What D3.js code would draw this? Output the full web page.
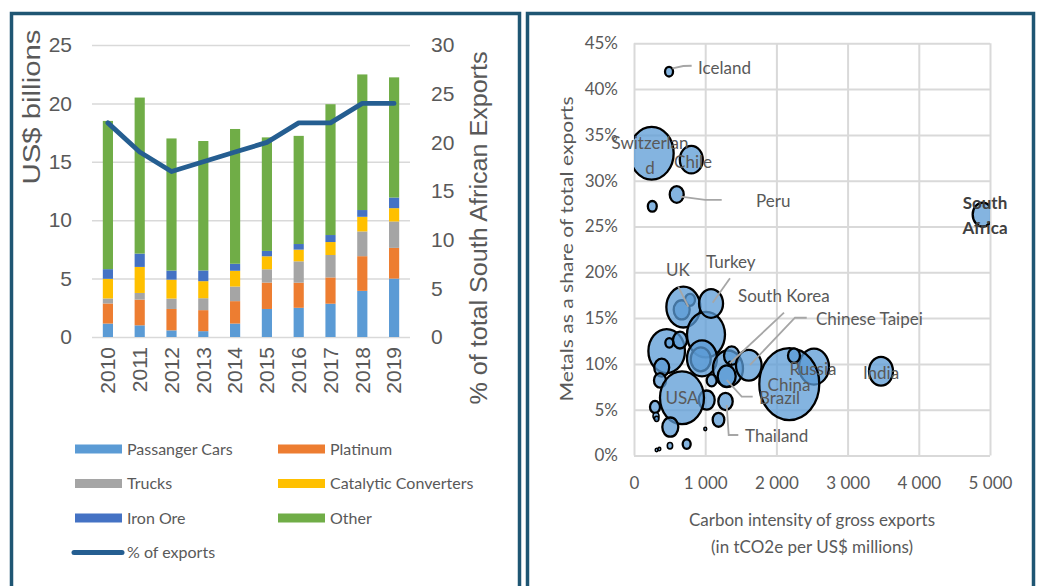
<!DOCTYPE html>
<html>
<head>
<meta charset="utf-8">
<script src="https://cdn.jsdelivr.net/npm/d3@7"></script>
<style>
  body { margin: 0; background: #fff; }
  svg { display: block; }
</style>
</head>
<body>
<svg id="chart" width="1040" height="586"></svg>
<script>
// ---- left chart data (US$ billions) ----
var years = ["2010", "2011", "2012", "2013", "2014", "2015", "2016", "2017", "2018", "2019"];
var passengerCars = [1.15, 1.0, 0.57, 0.5, 1.15, 2.4, 2.5, 2.85, 3.95, 5.0];
var platinum = [1.72, 2.2, 1.83, 1.8, 1.92, 2.26, 2.15, 2.25, 2.97, 2.63];
var trucks = [0.43, 0.57, 0.89, 1.02, 1.25, 1.14, 1.83, 1.92, 2.12, 2.26];
var catalyticConverters = [1.68, 2.23, 1.62, 1.46, 1.35, 1.11, 1.0, 1.11, 1.25, 1.14];
var ironOre = [0.83, 1.14, 0.78, 0.92, 0.6, 0.46, 0.48, 0.6, 0.58, 0.91];
var other = [12.69, 13.36, 11.31, 11.08, 11.54, 9.72, 9.26, 11.2, 11.61, 10.29];
var exportShare = [22, 19, 17, 18, 19, 20, 22, 22, 24, 24];
var seriesNames = ["Passanger Cars", "Platinum", "Trucks", "Catalytic Converters", "Iron Ore", "Other"];
var leftTicks = [0, 5, 10, 15, 20, 25];
var rightTicks = [0, 5, 10, 15, 20, 25, 30];

// ---- right chart data ----
var countries = ["", "", "Switzerland", "Iceland", "Chile", "Peru", "", "South Africa", "India", "Russia", "China", "",
  "UK", "", "", "Turkey", "", "", "", "", "", "", "South Korea", "", "Chinese Taipei", "Brazil", "",
  "", "", "USA", "Thailand", "", "", "", "", "", "", "", "", "", ""];
var carbonIntensity = [670, 787, 248, 492, 805, 600, 257, 4897, 3469, 2528, 2181, 2247,
  693, 1011, 459, 1082, 646, 937, 955, 389, 365, 496, 1320, 1372, 1612, 1302, 1091,
  1021, 295, 674, 1285, 1187, 1001, 510, 505, 740, 318, 356, 309, 318, 1348];
var metalShare = [15.9, 17.0, 33.0, 41.9, 32.3, 28.5, 27.2, 26.3, 9.2, 9.7, 7.8, 10.9,
  16.2, 13.2, 11.4, 16.6, 12.6, 10.5, 10.6, 9.6, 8.2, 12.3, 9.5, 10.9, 9.85, 8.65, 8.2,
  6.05, 5.3, 6.3, 5.9, 3.9, 2.9, 3.1, 1.07, 1.25, 0.6, 0.7, 4.3, 4.0, 10.1];
var exportSize = [64, 25, 484, 16, 132, 49, 20, 100, 144, 225, 900, 36,
  289, 361, 335, 144, 49, 100, 225, 56, 36, 16, 225, 59, 164, 81, 25,
  64, 25, 484, 52, 34, 2, 64, 7, 16, 2, 2, 9, 5, 0];
var xTicksR = [0, 1000, 2000, 3000, 4000, 5000];
var yTicksR = [0, 5, 10, 15, 20, 25, 30, 35, 40, 45];

// labels: text lines, anchor point in data units
var bubbleLabels = [
  { lines: ["Iceland"], x: 899, y: 42.3, anchor: "start" },
  { lines: ["Switzerlan", "d"], x: 225, y: 34.1, anchor: "middle" },
  { lines: ["Chile"], x: 829, y: 32.0, anchor: "middle" },
  { lines: ["Peru"], x: 1713, y: 27.8, anchor: "start" },
  { lines: ["South", "Africa"], x: 4930, y: 27.6, anchor: "middle", bold: true },
  { lines: ["UK"], x: 618, y: 20.25, anchor: "middle" },
  { lines: ["Turkey"], x: 1011, y: 21.1, anchor: "start" },
  { lines: ["South Korea"], x: 1461, y: 17.4, anchor: "start" },
  { lines: ["Chinese Taipei"], x: 2556, y: 14.9, anchor: "start" },
  { lines: ["Russia"], x: 2514, y: 9.44, anchor: "middle" },
  { lines: ["India"], x: 3469, y: 9.0, anchor: "middle" },
  { lines: ["China"], x: 2177, y: 7.7, anchor: "middle" },
  { lines: ["USA"], x: 674, y: 6.3, anchor: "middle" },
  { lines: ["Brazil"], x: 1756, y: 6.3, anchor: "start" },
  { lines: ["Thailand"], x: 1559, y: 2.1, anchor: "start" }
];
var leaderLines = [
  [[540, 42.27], [692, 42.52], [810, 42.55]],
  [[656, 28.25], [1000, 27.9], [1232, 27.9]],
  [[622, 18.43], [763, 16.24]],
  [[1348, 19.35], [1105, 16.68]],
  [[2107, 15.59], [1348, 10.07]],
  [[2426, 15.04], [2261, 15.04], [1629, 9.88]],
  [[1302, 8.24], [1513, 6.42], [1667, 6.42]],
  [[1302, 5.51], [1330, 2.24], [1465, 2.24]]
];

var svg = d3.select("#chart");
var gray = "#595959";
var gridColor = "#d9d9d9";
var colors = ["#5b9bd5", "#ed7d31", "#a5a5a5", "#ffc000", "#4472c4", "#70ad47"];
var armFont = "'Liberation Sans', Arial, sans-serif";
var calFont = "Lato, 'Open Sans', sans-serif";

// panel frames
svg.append("rect").attr("x", 11.5).attr("y", 13.5).attr("width", 508).attr("height", 600)
  .attr("fill", "none").attr("stroke", "#1f5673").attr("stroke-width", 3.5);
svg.append("rect").attr("x", 527.5).attr("y", 13.5).attr("width", 506).attr("height", 600)
  .attr("fill", "none").attr("stroke", "#1f5673").attr("stroke-width", 3.5);

// ================= LEFT CHART =================
var x = d3.scaleBand().domain(years).range([92, 410]).paddingInner(0.68).paddingOuter(0.34);
var yL = d3.scaleLinear().domain([0, 25]).range([337, 45]);
var yR = d3.scaleLinear().domain([0, 30]).range([337, 45]);

var left = svg.append("g");

// gridlines + left labels
var gL = left.append("g").attr("transform", "translate(92,0)")
  .call(d3.axisLeft(yL).tickValues(leftTicks).tickSize(-318).tickPadding(20));
gL.select(".domain").remove();
gL.selectAll("line").attr("stroke", gridColor).attr("stroke-width", 1.5);
gL.selectAll("text").attr("fill", gray).attr("font-size", 21).attr("font-family", armFont);

var gR = left.append("g").attr("transform", "translate(410,0)")
  .call(d3.axisRight(yR).tickValues(rightTicks).tickSize(0).tickPadding(21));
gR.select(".domain").remove();
gR.selectAll("text").attr("fill", gray).attr("font-size", 21).attr("font-family", armFont);

// stacked bars
var table = years.map(function(yr, i) {
  return { year: yr, "Passanger Cars": passengerCars[i], "Platinum": platinum[i], "Trucks": trucks[i],
    "Catalytic Converters": catalyticConverters[i], "Iron Ore": ironOre[i], "Other": other[i] };
});
var stacked = d3.stack().keys(seriesNames)(table);

left.selectAll("g.series")
  .data(stacked)
  .enter()
  .append("g")
  .attr("fill", (d, i) => colors[i])
  .selectAll("rect")
  .data(d => d)
  .enter()
  .append("rect")
  .attr("x", d => x(d.data.year))
  .attr("width", x.bandwidth())
  .attr("y", d => yL(d[1]))
  .attr("height", d => yL(d[0]) - yL(d[1]));

// share line
var line = d3.line()
  .x((d, i) => x(years[i]) + x.bandwidth() / 2)
  .y(d => yR(d));
left.append("path")
  .datum(exportShare)
  .attr("d", line)
  .attr("fill", "none")
  .attr("stroke", "#255e91")
  .attr("stroke-width", 4.8)
  .attr("stroke-linejoin", "round")
  .attr("stroke-linecap", "round");

// year labels
left.selectAll("text.year")
  .data(years)
  .enter()
  .append("text")
  .attr("class", "year")
  .attr("transform", d => `translate(${x(d) + x.bandwidth() / 2}, 347) rotate(-90)`)
  .attr("text-anchor", "end")
  .attr("dy", "0.35em")
  .attr("fill", gray)
  .attr("font-size", 21)
  .attr("font-family", armFont)
  .text(d => d);

// axis titles
left.append("text")
  .attr("transform", "translate(32,107) rotate(-90)")
  .attr("text-anchor", "middle")
  .attr("dy", "0.35em")
  .attr("fill", gray)
  .attr("font-size", 23)
  .attr("font-family", armFont)
  .attr("textLength", 155)
  .attr("lengthAdjust", "spacingAndGlyphs")
  .text("US$ billions");

left.append("text")
  .attr("transform", "translate(479,228) rotate(-90)")
  .attr("text-anchor", "middle")
  .attr("dy", "0.35em")
  .attr("fill", gray)
  .attr("font-size", 23)
  .attr("font-family", armFont)
  .attr("textLength", 353)
  .attr("lengthAdjust", "spacingAndGlyphs")
  .text("% of total South African Exports");

// legend
var legend = left.append("g");
seriesNames.forEach(function(name, i) {
  var col = i % 2, row = Math.floor(i / 2);
  var lx = col === 0 ? 75 : 278;
  var ly = 449 + row * 34.5;
  legend.append("rect").attr("x", lx).attr("y", ly - 4.5).attr("width", 47).attr("height", 9)
    .attr("fill", colors[i]);
  legend.append("text").attr("x", lx + 52).attr("y", ly).attr("dy", "0.35em")
    .attr("fill", gray).attr("font-size", 16).attr("font-family", calFont).text(name);
});
legend.append("line").attr("x1", 74).attr("x2", 122).attr("y1", 552.5).attr("y2", 552.5)
  .attr("stroke", "#255e91").attr("stroke-width", 5).attr("stroke-linecap", "round");
legend.append("text").attr("x", 127).attr("y", 552.5).attr("dy", "0.35em")
  .attr("fill", gray).attr("font-size", 16).attr("font-family", calFont).text("% of exports");

// ================= RIGHT CHART =================
var xS = d3.scaleLinear().domain([0, 5000]).range([634, 990]);
var yS = d3.scaleLinear().domain([0, 45]).range([455.5, 43.3]);
var rS = d3.scaleSqrt().domain([0, 900]).range([0, 30]);
var right = svg.append("g");

var gxS = right.append("g").attr("transform", "translate(0,43.3)")
  .call(d3.axisBottom(xS).tickValues(xTicksR).tickSize(455.5 - 43.3).tickPadding(21)
    .tickFormat(d3.formatLocale({ decimal: ".", thousands: " ", grouping: [3], currency: ["", ""] }).format(",")));
gxS.select(".domain").remove();
gxS.selectAll("line").attr("stroke", gridColor).attr("stroke-width", 2);
gxS.selectAll("text").attr("fill", gray).attr("font-size", 17).attr("font-family", calFont);

var gyS = right.append("g").attr("transform", "translate(634,0)")
  .call(d3.axisLeft(yS).tickValues(yTicksR).tickSize(-(990 - 634)).tickPadding(16).tickFormat(d => d + "%"));
gyS.select(".domain").remove();
gyS.selectAll("line").attr("stroke", gridColor).attr("stroke-width", 2);
gyS.selectAll("text").attr("fill", gray).attr("font-size", 17).attr("font-family", calFont);

// bubbles, clipped to the plot area
svg.append("defs").append("clipPath").attr("id", "plotClip")
  .append("rect").attr("x", 634).attr("y", 43.3).attr("width", 990 - 634).attr("height", 455.5 - 43.3);

var bubbles = countries.map(function(c, i) {
  return { name: c, x: carbonIntensity[i], y: metalShare[i], size: exportSize[i] };
});
right.append("g").attr("clip-path", "url(#plotClip)")
  .selectAll("ellipse")
  .data(bubbles)
  .enter()
  .append("ellipse")
  .attr("cx", d => xS(d.x))
  .attr("cy", d => yS(d.y))
  .attr("rx", d => Math.max(rS(d.size), 1.3))
  .attr("ry", d => Math.max(rS(d.size), 1.3) * 1.2)
  .attr("fill", "#5b9bd5")
  .attr("fill-opacity", 0.75)
  .attr("stroke", "#000")
  .attr("stroke-width", d => d.size < 10 ? 1.6 : 2.3);

// leader lines
var leader = d3.line().x(d => xS(d[0])).y(d => yS(d[1]));
right.selectAll("path.leader")
  .data(leaderLines)
  .enter()
  .append("path")
  .attr("class", "leader")
  .attr("d", leader)
  .attr("fill", "none")
  .attr("stroke", "#a6a6a6")
  .attr("stroke-width", 1.8);

// labels
bubbleLabels.forEach(function(lb) {
  var t = right.append("text")
    .attr("text-anchor", lb.anchor)
    .attr("fill", lb.bold ? "#404040" : gray)
    .attr("font-weight", lb.bold ? "bold" : "normal")
    .attr("font-size", 17)
    .attr("font-family", calFont);
  lb.lines.forEach(function(s, k) {
    t.append("tspan").attr("x", xS(lb.x)).attr("y", yS(lb.y) + k * 25).attr("dy", "0.35em").text(s);
  });
});

// axis titles
right.append("text")
  .attr("transform", "translate(567,249) rotate(-90)")
  .attr("text-anchor", "middle")
  .attr("dy", "0.35em")
  .attr("fill", gray)
  .attr("font-size", 17)
  .attr("font-family", calFont)
  .attr("textLength", 305)
  .attr("lengthAdjust", "spacingAndGlyphs")
  .text("Metals as a share of total exports");

right.append("text")
  .attr("x", 812).attr("y", 520).attr("dy", "0.35em")
  .attr("text-anchor", "middle")
  .attr("fill", gray)
  .attr("font-size", 17)
  .attr("font-family", calFont)
  .text("Carbon intensity of gross exports");
right.append("text")
  .attr("x", 812).attr("y", 547).attr("dy", "0.35em")
  .attr("text-anchor", "middle")
  .attr("fill", gray)
  .attr("font-size", 17)
  .attr("font-family", calFont)
  .text("(in tCO2e per US$ millions)");
</script>
</body>
</html>
